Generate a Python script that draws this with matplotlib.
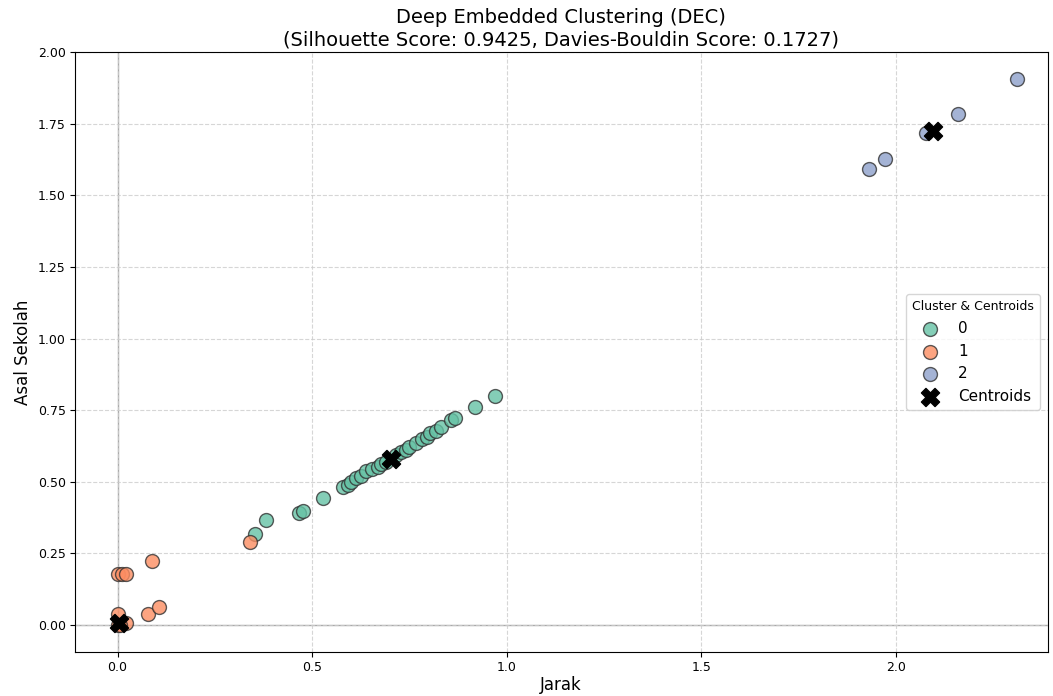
import numpy as np
import matplotlib.pyplot as plt

# cluster 0 (green)
c0_x = [0.354, 0.381, 0.465, 0.477, 0.529, 0.578, 0.591, 0.600, 0.612, 0.625, 0.638,
        0.655, 0.668, 0.676, 0.690, 0.715, 0.727, 0.740, 0.749, 0.766, 0.783, 0.795,
        0.804, 0.817, 0.830, 0.856, 0.868, 0.918, 0.970]
c0_y = [0.318, 0.366, 0.390, 0.399, 0.442, 0.483, 0.490, 0.500, 0.514, 0.520, 0.536,
        0.545, 0.553, 0.562, 0.570, 0.592, 0.605, 0.612, 0.622, 0.636, 0.650, 0.658,
        0.669, 0.678, 0.690, 0.714, 0.722, 0.762, 0.801]
# cluster 1 (orange)
c1_x = [0.0, 0.012, 0.022, 0.089, 0.078, 0.106, 0.0, 0.022, 0.0, 0.005, 0.341]
c1_y = [0.178, 0.178, 0.178, 0.224, 0.038, 0.062, 0.038, 0.006, 0.0, 0.0, 0.291]
# cluster 2 (blue)
c2_x = [1.930, 1.971, 2.077, 2.160, 2.310]
c2_y = [1.593, 1.628, 1.718, 1.783, 1.908]

cent_x = [0.703, 0.004, 2.094]
cent_y = [0.578, 0.006, 1.725]

colors = ['#66c2a5', '#fc8d62', '#8da0cb']

fig = plt.figure(figsize=(10.53, 6.96), dpi=100)
ax = fig.add_axes([0.071, 0.063, 0.924, 0.862])

ax.axhline(0, color='#aaaaaa', lw=1, zorder=1)
ax.axvline(0, color='#aaaaaa', lw=1, zorder=1)
ax.grid(True, linestyle='--', color='#cccccc', alpha=0.8, zorder=0)

for i, (xs, ys) in enumerate([(c0_x, c0_y), (c1_x, c1_y), (c2_x, c2_y)]):
    ax.scatter(xs, ys, s=100, color=colors[i], edgecolor='#333333', linewidth=1,
               alpha=0.8, label=str(i), zorder=3)
ax.scatter(cent_x, cent_y, s=170, marker='X', color='black', label='Centroids', zorder=4)

ax.set_xlim(-0.11, 2.39)
ax.set_ylim(-0.095, 2.0)
ax.set_yticks(np.arange(0, 2.01, 0.25))
ax.set_xticks([0.0, 0.5, 1.0, 1.5, 2.0])
ax.tick_params(labelsize=9, pad=3)

ax.set_title('Deep Embedded Clustering (DEC)\n(Silhouette Score: 0.9425, Davies-Bouldin Score: 0.1727)',
             fontsize=14, pad=5)
ax.set_xlabel('Jarak', fontsize=12, labelpad=1)
ax.set_ylabel('Asal Sekolah', fontsize=12)
leg = ax.legend(title='Cluster & Centroids', loc='center right', fontsize=11,
                title_fontsize=9, frameon=True)

fig.savefig('out.png', dpi=100)
